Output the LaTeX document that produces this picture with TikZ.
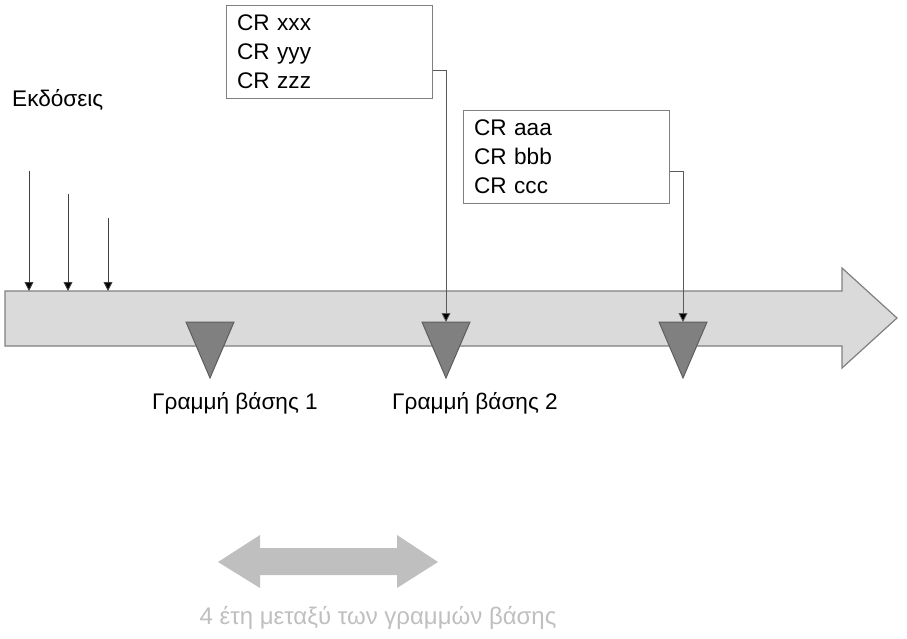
\documentclass[tikz,border=0pt]{standalone}
\usepackage{fontspec}
\setmainfont{Liberation Sans}
\usetikzlibrary{arrows.meta,calc}
\definecolor{shaftfill}{HTML}{DADADA}
\definecolor{edgegray}{HTML}{808080}
\definecolor{trifill}{HTML}{808080}
\definecolor{tridraw}{HTML}{5E5E5E}
\definecolor{lightgray2}{HTML}{BFBFBF}
\tikzset{
  crbox/.style={draw=edgegray, line width=1pt, fill=white, anchor=north west, align=left,
    minimum width=206pt, minimum height=93pt, inner xsep=10pt, inner ysep=5pt,
    text width=185pt, font=\fontsize{22.6}{29}\selectfont},
  conn/.style={draw=edgegray!70!black, line width=0.8pt, -{Triangle[length=9pt,width=9pt,fill=black]}},
  rel/.style={draw=black!75, line width=0.9pt, -{Triangle[length=9pt,width=9pt,fill=black]}},
  tri/.style={fill=trifill, draw=tridraw, line width=1pt},
  lbl/.style={font=\fontsize{22.6}{26}\selectfont, inner sep=0pt}
}
\begin{document}
\begin{tikzpicture}[x=1pt,y=-1pt]
\useasboundingbox (0,0) rectangle (907,639);
% big timeline arrow
\draw[fill=shaftfill, draw=edgegray, line width=1.2pt]
  (5,291) -- (842,291) -- (842,268) -- (897,318) -- (842,368) -- (842,346) -- (5,346) -- cycle;
% triangles (baselines)
\foreach \n/\x in {A/210,B/446,C/683}{
  \draw[tri] (\x-24,322) -- (\x+24,322) -- (\x,378) -- cycle;
  \coordinate (t\n) at (\x,322);
}
% labels
\node[lbl] (l1) at (235,403) {Γραμμή βάσης 1};
\node[lbl] (l2) at (475,403) {Γραμμή βάσης 2};
\node[lbl, anchor=west] (rel) at (12,100) {Εκδόσεις};
% release arrows
\foreach \n/\x/\y in {1/29/171,2/68/194,3/108/218}{
  \coordinate (s\n) at (\x,\y);
  \coordinate (e\n) at (\x,291);
  \draw[rel] (s\n) -- (e\n);
}
% CR boxes
\node[crbox] (box1) at (226,5) {CR xxx\\CR yyy\\CR zzz};
\node[crbox] (box2) at (463,110) {CR aaa\\CR bbb\\CR ccc};
\draw[conn] ($(box1.north east)+(0,65)$) -| (tB);
\draw[conn] ($(box2.north east)+(0,61)$) -| (tC);
% double arrow
\fill[lightgray2] (218,562) -- (260,535) -- (260,548) -- (397,548) -- (397,535) -- (438,562)
  -- (397,588) -- (397,575) -- (260,575) -- (260,588) -- cycle;
\node[lbl, text=lightgray2, font=\fontsize{24}{28}\selectfont] (span) at (378,618) {4 έτη μεταξύ των γραμμών βάσης};
\end{tikzpicture}
\end{document}
